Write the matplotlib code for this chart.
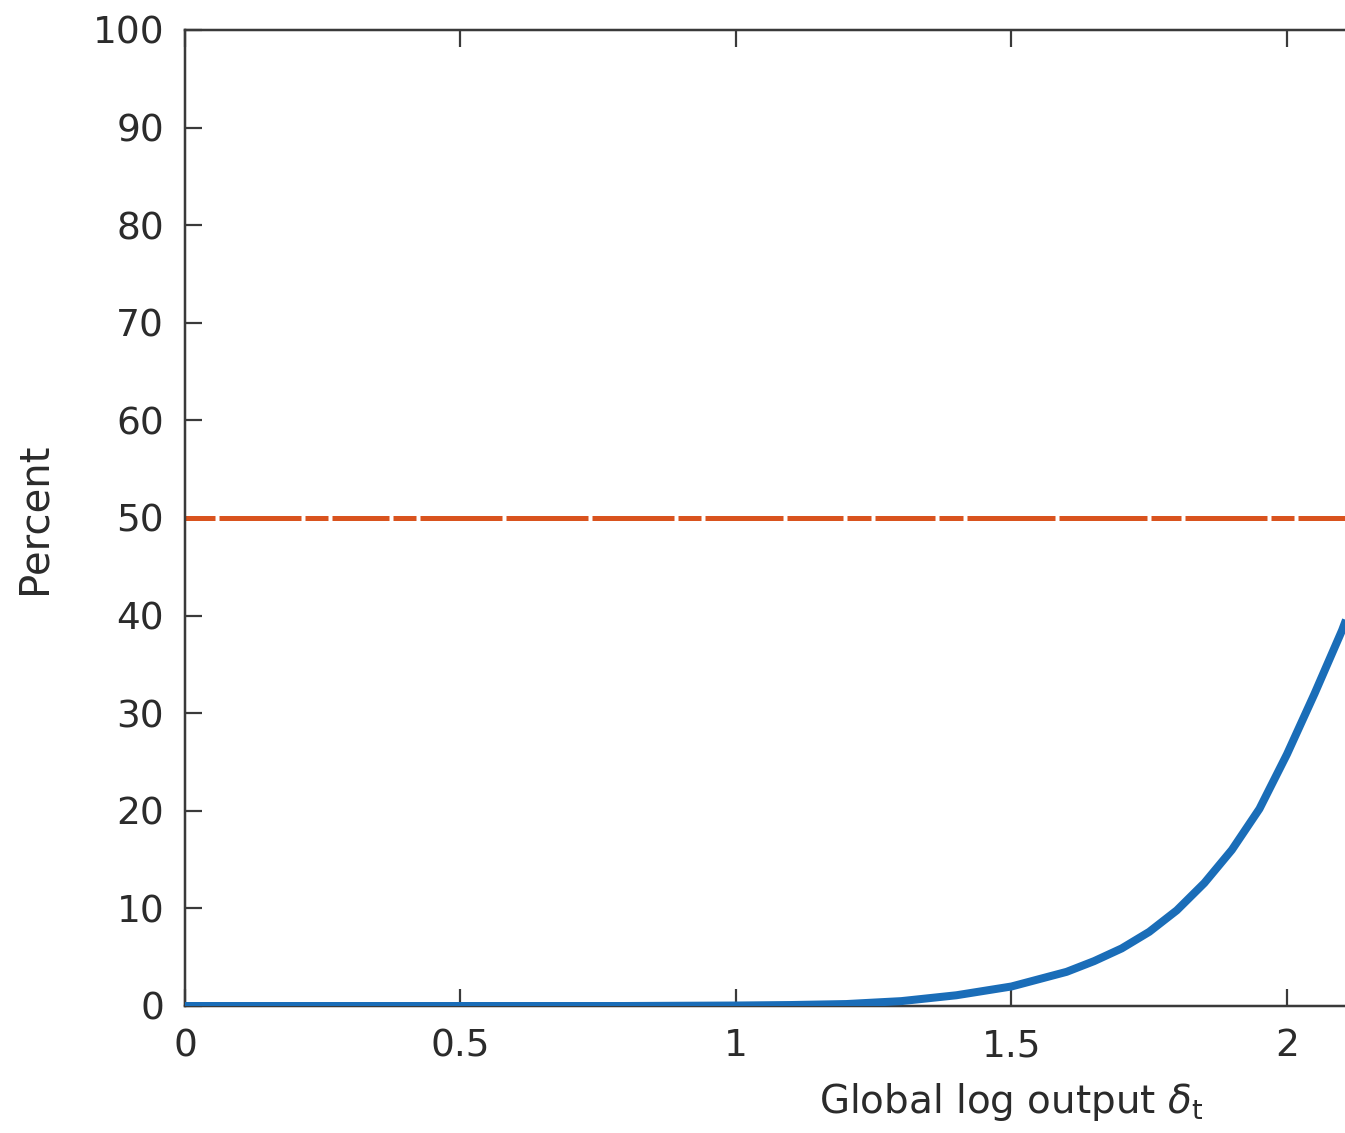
import matplotlib
matplotlib.use("Agg")
import matplotlib.pyplot as plt

# ---- data ----
delta = [0.0, 0.2, 0.4, 0.6, 0.8, 1.0, 1.1, 1.2, 1.3, 1.4, 1.5, 1.6, 1.65, 1.7, 1.75, 1.8,
         1.85, 1.9, 1.95, 2.0, 2.05, 2.1, 2.15]
percent = [0.0, 0.0, 0.0, 0.0, 0.0, 0.05, 0.1, 0.2, 0.5, 1.1, 2.0, 3.5, 4.6, 5.9, 7.6, 9.8,
           12.6, 16.0, 20.2, 25.8, 32.0, 38.5, 46.0]
ref_x = [0.0, 3.0]
ref_y = [50.0, 50.0]
xticks = [0, 0.5, 1, 1.5, 2]
xticklabels = ["0", "0.5", "1", "1.5", "2"]
yticks = [0, 10, 20, 30, 40, 50, 60, 70, 80, 90, 100]
yticklabels = [str(v) for v in yticks]

plt.rcParams['font.family'] = ['DejaVu Sans']
plt.rcParams['lines.scale_dashes'] = False
plt.rcParams['mathtext.fontset'] = 'dejavusans'

W, H, DPI = 1345, 1133, 100
fig = plt.figure(figsize=(W / DPI, H / DPI), dpi=DPI)
left, right, bottom, top = 185, 185 + 3 * 551, 1006, 30
ax = fig.add_axes([left / W, (H - bottom) / H, (right - left) / W, (bottom - top) / H])

blue = '#1A6DB8'
orange = '#D9531E'
spine_c = '#3a3a3a'
text_c = '#2b2b2b'

px = 72.0 / DPI
ln, = ax.plot(ref_x, ref_y, color=orange, lw=5 * px, solid_capstyle='butt')
seq_px = [30, 4, 82, 4, 23, 4, 57, 4, 23, 4, 82, 4, 82, 4, 82, 4, 23, 4, 78, 4, 56, 4,
          24, 4, 60, 4, 24, 4, 88, 4, 88, 4, 88, 4, 25, 4]
ln.set_dashes([s * px for s in seq_px])
ln.set_dash_capstyle('butt')

ax.plot(delta, percent, color=blue, lw=8 * px, solid_capstyle='butt',
        solid_joinstyle='round', zorder=3)

ax.set_xlim(0, 3)
ax.set_ylim(0, 100)
ax.set_xticks(xticks)
ax.set_xticklabels(xticklabels)
ax.set_yticks(yticks)
ax.set_yticklabels(yticklabels)

for s in ax.spines.values():
    s.set_color(spine_c)
    s.set_linewidth(2.5 * px)

ax.tick_params(axis='both', direction='in', length=17 * px, width=2.2 * px,
               color=spine_c, labelcolor=text_c, labelsize=27)
ax.tick_params(axis='x', top=True, pad=16)
ax.tick_params(axis='y', right=True, pad=15)

ax.set_ylabel('Percent', fontsize=29, color=text_c, va='center')
ax.yaxis.set_label_coords(-0.091, 0.5)
ax.set_xlabel(r'Global log output $\delta_{\mathrm{t}}$', fontsize=28, color=text_c, va='baseline')
ax.xaxis.set_label_coords(0.5, -0.1096)

fig.savefig('out.png', dpi=DPI)
